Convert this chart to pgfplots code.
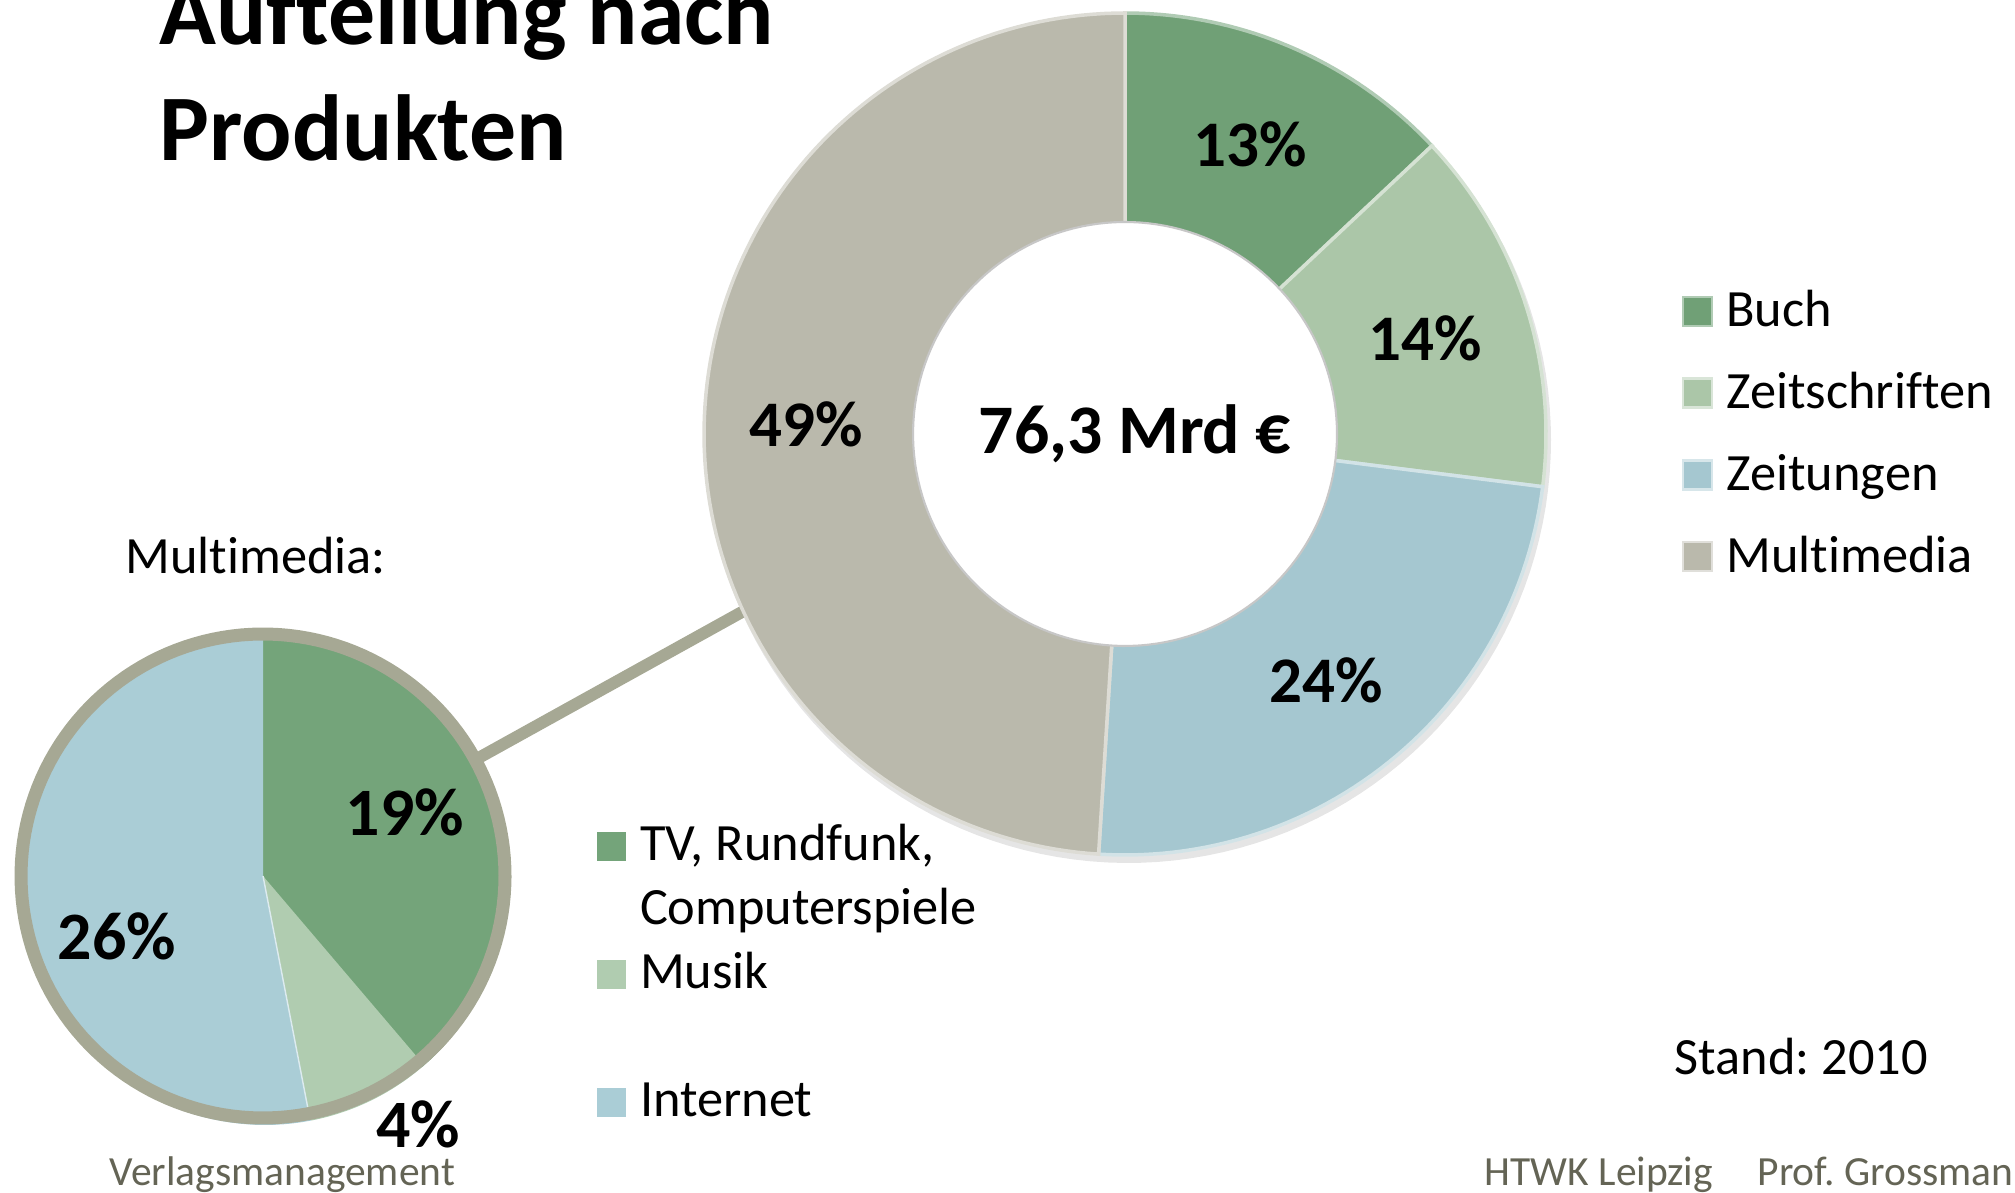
\documentclass[border=0pt]{standalone}
\usepackage{fontspec}
\setmainfont{Carlito}[Ligatures={NoCommon}]
\usepackage{pgfplots}
\pgfplotsset{compat=1.18}

\definecolor{cBuch}{HTML}{70A076}
\definecolor{cZeitschr}{HTML}{ABC6A8}
\definecolor{cZeitung}{HTML}{A5C7D0}
\definecolor{cMulti}{HTML}{BAB9AC}
\definecolor{pTV}{HTML}{74A47A}
\definecolor{pMusik}{HTML}{B0CCB0}
\definecolor{pNet}{HTML}{AACDD6}
\definecolor{pBorder}{HTML}{A6A894}
\definecolor{footer}{HTML}{646455}

% data (percent of 76,3 Mrd EUR)
\newcommand{\vBuch}{13}
\newcommand{\vZeitschr}{14}
\newcommand{\vZeitung}{24}
\newcommand{\vMulti}{49}
% Multimedia split
\newcommand{\vTV}{19}
\newcommand{\vMusik}{4}
\newcommand{\vNet}{26}

\pgfplotsset{
  base/.style={at={(0,0)}, anchor=south west, scale only axis,
    width=20.15cm, height=11.92cm, xmin=0, xmax=2015, ymin=0, ymax=1192,
    hide axis, clip=false},
}
\tikzset{
  regfont/.style={font=\fontsize{14.9pt}{17pt}\selectfont},
  boldlab/.style={inner sep=0pt, font=\fontsize{#1}{22pt}\selectfont\bfseries},
}

\begin{document}
\frenchspacing
% donut angles (clockwise from 12 o'clock)
\pgfmathsetmacro{\dA}{90}%
\pgfmathsetmacro{\dB}{\dA-3.6*\vBuch}%
\pgfmathsetmacro{\dC}{\dB-3.6*\vZeitschr}%
\pgfmathsetmacro{\dD}{\dC-3.6*\vZeitung}%
\pgfmathsetmacro{\dE}{\dD-3.6*\vMulti}%
% pie angles
\pgfmathsetmacro{\pTot}{\vTV+\vMusik+\vNet}%
\pgfmathsetmacro{\qA}{90}%
\pgfmathsetmacro{\qB}{\qA-360*\vTV/\pTot}%
\pgfmathsetmacro{\qC}{\qB-360*\vMusik/\pTot}%
\pgfmathsetmacro{\qD}{\qC-360*\vNet/\pTot}%
\begin{tikzpicture}
\path[use as bounding box] (0,0) rectangle (20.15cm,11.92cm);
\clip (0,0) rectangle (20.15cm,11.92cm);

% ---------------- pie (Multimedia) ----------------
\begin{axis}[base,
  legend image code/.code={\fill[#1, draw=none] (0cm,-0.14cm) rectangle (0.29cm,0.15cm);},
  legend cell align=left,
  legend style={at={(axis cs:597,371)}, anchor=north west, draw=none, fill=none,
    inner sep=0pt, outer sep=0pt, row sep=0.12cm, column sep=0.14cm,
    font=\fontsize{14.9pt}{17pt}\selectfont,
    nodes={inner sep=0pt, text height=0.40cm, text depth=0.12cm}},
]
% connector line
\addplot[forget plot, draw=pBorder, line width=3.4pt] coordinates {(455,421) (760,590)};
% 3D depth of the pie (slightly offset copy)
\addplot[forget plot, fill=pTV, draw=none, domain=\qB:\qA, samples=60]
  ({265+242*cos(x)},{309+242*sin(x)}) -- (265,309) -- cycle;
\addplot[forget plot, fill=pMusik, draw=none, domain=\qC:\qB, samples=30]
  ({265+242*cos(x)},{309+242*sin(x)}) -- (265,309) -- cycle;
\addplot[forget plot, fill=pNet, draw=none, domain=\qD:\qC, samples=90]
  ({265+242*cos(x)},{309+242*sin(x)}) -- (265,309) -- cycle;
% wedges
\addplot[forget plot, fill=pTV, draw=none, domain=\qB:\qA, samples=60]
  ({263+242*cos(x)},{316+242*sin(x)}) -- (263,316) -- cycle;
\addplot[forget plot, fill=pMusik, draw=none, domain=\qC:\qB, samples=30]
  ({263+242*cos(x)},{316+242*sin(x)}) -- (263,316) -- cycle;
\addplot[forget plot, fill=pNet, draw=none, domain=\qD:\qC, samples=90]
  ({263+242*cos(x)},{316+242*sin(x)}) -- (263,316) -- cycle;
\addplot[forget plot, draw=white!60!pNet, line width=0.4pt] coordinates {(263,316) (309,78)};
% border
\addplot[forget plot, draw=pBorder, line width=3.7pt, domain=0:360, samples=160]
  ({263+242*cos(x)},{316+242*sin(x)}) -- cycle;

\addlegendimage{fill=pTV}
\addlegendentry{TV, Rundfunk,}
\addlegendimage{empty legend}
\addlegendentry{Computerspiele}
\addlegendimage{fill=pMusik}
\addlegendentry{Musik}
\addlegendimage{empty legend}
\addlegendentry{}
\addlegendimage{fill=pNet}
\addlegendentry{Internet}

% pie labels
\node[boldlab=19.3pt] at (axis cs:405,380) {19\%};
\node[boldlab=19.3pt] at (axis cs:117,256) {26\%};
\node[boldlab=19.3pt] at (axis cs:418,68) {4\%};

% texts
\node[anchor=base west, inner sep=0pt, font=\fontsize{26.7pt}{33pt}\selectfont\bfseries] at (axis cs:159,1147) {Aufteilung nach};
\node[anchor=base west, inner sep=0pt, font=\fontsize{26.7pt}{33pt}\selectfont\bfseries] at (axis cs:159,1031) {Produkten};
\node[anchor=base west, inner sep=0pt, regfont] at (axis cs:125,618) {Multimedia:};
\node[anchor=base west, inner sep=0pt, regfont] at (axis cs:1674,117) {Stand: 2010};
\node[anchor=base west, inner sep=0pt, text=footer, font=\fontsize{11.8pt}{14pt}\selectfont] at (axis cs:109,7) {Verlagsmanagement};
\node[anchor=base west, inner sep=0pt, text=footer, font=\fontsize{11.8pt}{14pt}\selectfont] at (axis cs:1484,7) {HTWK Leipzig};
\node[anchor=base west, inner sep=0pt, text=footer, font=\fontsize{11.8pt}{14pt}\selectfont] at (axis cs:1757,7) {Prof. Grossmann};
\end{axis}

% ---------------- donut ----------------
\begin{axis}[base,
  legend image code/.code={\draw[#1, line width=0.7pt] (0cm,-0.13cm) rectangle (0.29cm,0.16cm);},
  legend cell align=left,
  legend style={at={(axis cs:1682,905)}, anchor=north west, draw=none, fill=none,
    inner sep=0pt, outer sep=0pt, row sep=0.297cm, column sep=0.13cm,
    font=\fontsize{14.9pt}{17pt}\selectfont,
    nodes={inner sep=0pt, text height=0.40cm, text depth=0.12cm}},
]
% soft shadow
\addplot[forget plot, fill=black, fill opacity=0.10, draw=none, domain=0:360, samples=160]
  ({1128+423*cos(x)},{752+423*sin(x)}) -- cycle;
\addplot[forget plot, fill=cBuch, draw=cBuch!55!white, line width=1pt, domain=\dB:\dA, samples=40]
  ({1125+421*cos(x)},{758+421*sin(x)}) -- (1125,758) -- cycle;
\addplot[forget plot, fill=cZeitschr, draw=cZeitschr!50!white, line width=1pt, domain=\dC:\dB, samples=40]
  ({1125+421*cos(x)},{758+421*sin(x)}) -- (1125,758) -- cycle;
\addplot[forget plot, fill=cZeitung, draw=cZeitung!50!white, line width=1pt, domain=\dD:\dC, samples=60]
  ({1125+421*cos(x)},{758+421*sin(x)}) -- (1125,758) -- cycle;
\addplot[forget plot, fill=cMulti, draw=cMulti!50!white, line width=1pt, domain=\dE:\dD, samples=120]
  ({1125+421*cos(x)},{758+421*sin(x)}) -- (1125,758) -- cycle;
% hole
\addplot[forget plot, fill=white, draw=black!22, line width=0.6pt, domain=0:360, samples=160]
  ({1125+212*cos(x)},{758+212*sin(x)}) -- cycle;

\addlegendimage{fill=cBuch, draw=cBuch!55!white}
\addlegendentry{Buch}
\addlegendimage{fill=cZeitschr, draw=cZeitschr!45!white}
\addlegendentry{Zeitschriften}
\addlegendimage{fill=cZeitung, draw=cZeitung!45!white}
\addlegendentry{Zeitungen}
\addlegendimage{fill=cMulti, draw=cMulti!45!white}
\addlegendentry{Multimedia}

\node[boldlab=18.5pt] at (axis cs:1250,1048) {13\%};
\node[boldlab=18.5pt] at (axis cs:1425,854) {14\%};
\node[boldlab=18.5pt] at (axis cs:1326,512) {24\%};
\node[boldlab=18.5pt] at (axis cs:806,768) {49\%};
\node[boldlab=19.8pt] at (axis cs:1135,758) {76,3 Mrd €};
\end{axis}
\end{tikzpicture}
\end{document}
